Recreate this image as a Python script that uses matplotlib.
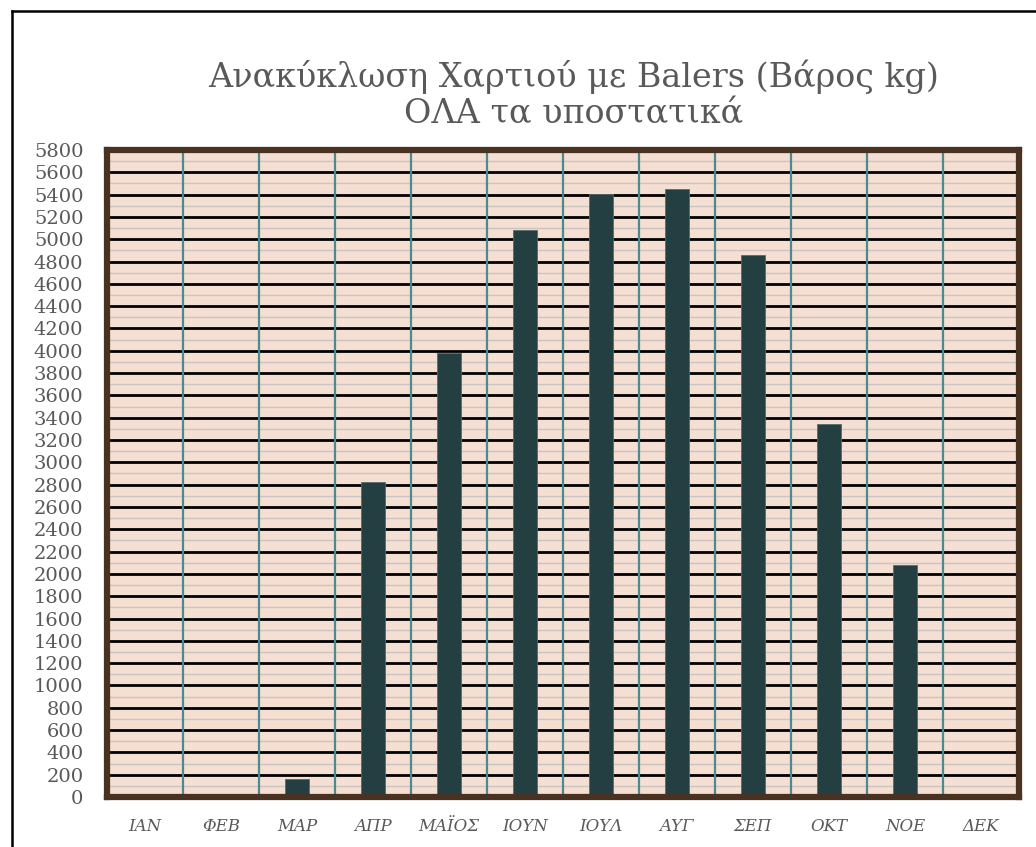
import numpy as np
import matplotlib
matplotlib.use('Agg')
import matplotlib.pyplot as plt
from matplotlib.lines import Line2D

months = ['ΙΑΝ', 'ΦΕΒ', 'ΜΑΡ', 'ΑΠΡ', 'ΜΑΪΟΣ', 'ΙΟΥΝ', 'ΙΟΥΛ', 'ΑΥΓ', 'ΣΕΠ', 'ΟΚΤ', 'ΝΟΕ', 'ΔΕΚ']
weights = [0, 0, 160, 2820, 3980, 5080, 5410, 5450, 4860, 3340, 2080, 0]
yticks = list(range(0, 5801, 200))

plt.rcParams['font.family'] = ['DejaVu Serif', 'Liberation Serif']

fig = plt.figure(figsize=(10.36, 8.47), dpi=100)
ax = fig.add_axes([107 / 1036, 1 - 797 / 847, 912 / 1036, 647 / 847])

ax.set_facecolor('#f5dfd3')
x = np.arange(len(months))
ax.bar(x, weights, width=0.32, color='#243f42', edgecolor='#5a6a6a', linewidth=0.6, zorder=3)

ax.set_xlim(-0.5, len(months) - 0.5)
ax.set_ylim(0, 5800)

# grid: black every 200, grey between
ax.set_yticks(yticks)
ax.set_yticks(np.arange(100, 5800, 200), minor=True)
ax.yaxis.grid(True, which='major', color='black', linewidth=2.0, zorder=1)
ax.yaxis.grid(True, which='minor', color='#c9c4c0', linewidth=1.0, zorder=1)
for sep in np.arange(0.5, len(months) - 1, 1.0):
    ax.axvline(sep, color='#4a8a90', linewidth=1.6, zorder=2)
ax.axhline(0, color='black', linewidth=2.5, zorder=4)

ax.tick_params(axis='y', which='both', length=0, pad=17, labelsize=14, labelcolor='#595959')
ax.tick_params(axis='x', length=0, pad=15, labelsize=12, labelcolor='#595959')
ax.set_xticks(x)
ax.set_xticklabels(months, fontstyle='italic')

for s in ax.spines.values():
    s.set_color('#4a3223')
    s.set_linewidth(4.5)
    s.set_zorder(5)

fig.text(574 / 1036, 1 - 95 / 847,
         'Ανακύκλωση Χαρτιού με Balers (Βάρος kg)\nΟΛΑ τα υποστατικά',
         ha='center', va='center', fontsize=24, color='#595959', linespacing=1.15)

# outer frame (top and left edges visible)
fig.add_artist(Line2D([12 / 1036, 1.0], [1 - 11 / 847, 1 - 11 / 847], color='black', linewidth=1.8,
                      transform=fig.transFigure))
fig.add_artist(Line2D([12 / 1036, 12 / 1036], [0.0, 1 - 11 / 847], color='black', linewidth=1.8,
                      transform=fig.transFigure))

fig.savefig('out.png', dpi=100)
